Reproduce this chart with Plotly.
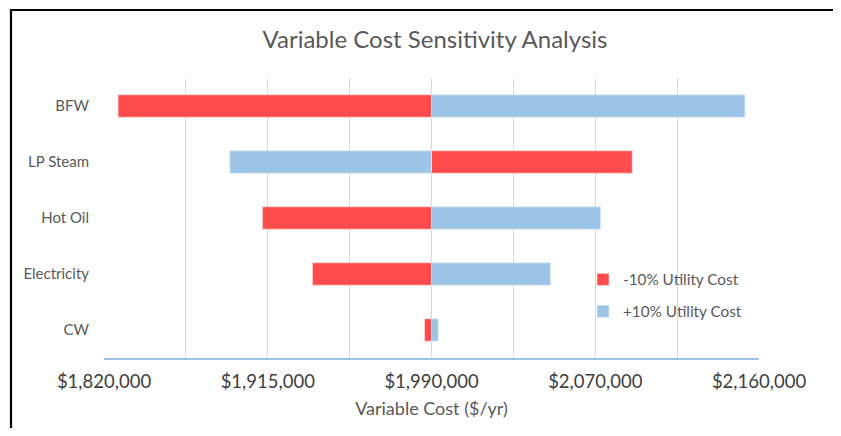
import plotly.graph_objects as go

# ---- data ----
categories = ["BFW", "LP Steam", "Hot Oil", "Electricity", "CW"]
base_cost = 1990000
minus10_cost = [1827300, 2094200, 1902300, 1928200, 1986400]   # -10% Utility Cost
plus10_cost = [2152700, 1885300, 2077800, 2051800, 1993500]    # +10% Utility Cost
grid_vals = [1820000, 1862500, 1905000, 1947500, 1990000, 2032500, 2075000, 2117500, 2160000]
tick_labels = ["$1,820,000", "", "$1,915,000", "", "$1,990,000", "", "$2,070,000", "", "$2,160,000"]

RED = "#FF4B4B"
BLUE = "#9DC3E6"
TXT = "#595959"
FONT = "Lato"

OFF = 8  # page body margin
W, H = 841 - 2 * OFF, 436 - 2 * OFF
L, T = 104 - OFF, 78 - OFF
R = W - L - 655
B = H - T - 280
pw, ph = W - L - R, H - T - B

fig = go.Figure()
fig.add_trace(go.Bar(
    y=categories, x=[v - base_cost for v in minus10_cost], base=base_cost,
    orientation="h", name="-10% Utility Cost", marker=dict(color=RED, line=dict(width=0.6, color="#ffe0e0")),
    legendgroup="a"))
fig.add_trace(go.Bar(
    y=categories, x=[v - base_cost for v in plus10_cost], base=base_cost,
    orientation="h", name="+10% Utility Cost", marker=dict(color=BLUE, line=dict(width=0.6, color="#e6f0fa")),
    legendgroup="b"))

# convert page pixel -> paper coords
def px_x(p):
    return (p - OFF - L) / pw

def px_y(p):
    return (H - B - (p - OFF)) / ph

frame = dict(color="black", width=2.2)
fig.update_layout(
    width=W, height=H,
    margin=dict(l=L, r=R, t=T, b=B),
    paper_bgcolor="white", plot_bgcolor="white",
    barmode="overlay", bargap=0.6,
    font=dict(family=FONT, color=TXT),
    title=dict(text="Variable Cost Sensitivity Analysis", x=(435 - OFF) / W, xanchor="center",
               y=1 - (40 - OFF) / H, yanchor="middle", font=dict(size=24, color=TXT, family=FONT)),
    legend=dict(x=px_x(583), y=px_y(263), xanchor="left", yanchor="top",
                font=dict(size=15.3, color=TXT, family=FONT), traceorder="grouped",
                tracegroupgap=9, bgcolor="rgba(0,0,0,0)"),
    xaxis=dict(range=[grid_vals[0], grid_vals[-1]], tickvals=grid_vals, ticktext=tick_labels,
               showgrid=True, gridcolor="#D9D9D9", gridwidth=1, zeroline=False,
               showline=True, linecolor="#9DC3E6", linewidth=1.5,
               tickfont=dict(size=18.5, color="#404040", family=FONT), ticks="", ticklabelstandoff=6,
               title=dict(text="Variable Cost ($/yr)", font=dict(size=18, color=TXT, family=FONT), standoff=11),
               fixedrange=True),
    yaxis=dict(autorange="reversed", showgrid=False, zeroline=False, showline=False, ticks="",
               tickfont=dict(size=15, color=TXT, family=FONT), ticklabelstandoff=14),
    shapes=[
        dict(type="line", xref="paper", yref="paper", x0=px_x(10), x1=px_x(900),
             y0=px_y(10), y1=px_y(10), line=frame, layer="above"),
        dict(type="line", xref="paper", yref="paper", x0=px_x(11), x1=px_x(11),
             y0=px_y(9), y1=px_y(500), line=frame, layer="above"),
    ],
)

fig.write_html("out.html")
